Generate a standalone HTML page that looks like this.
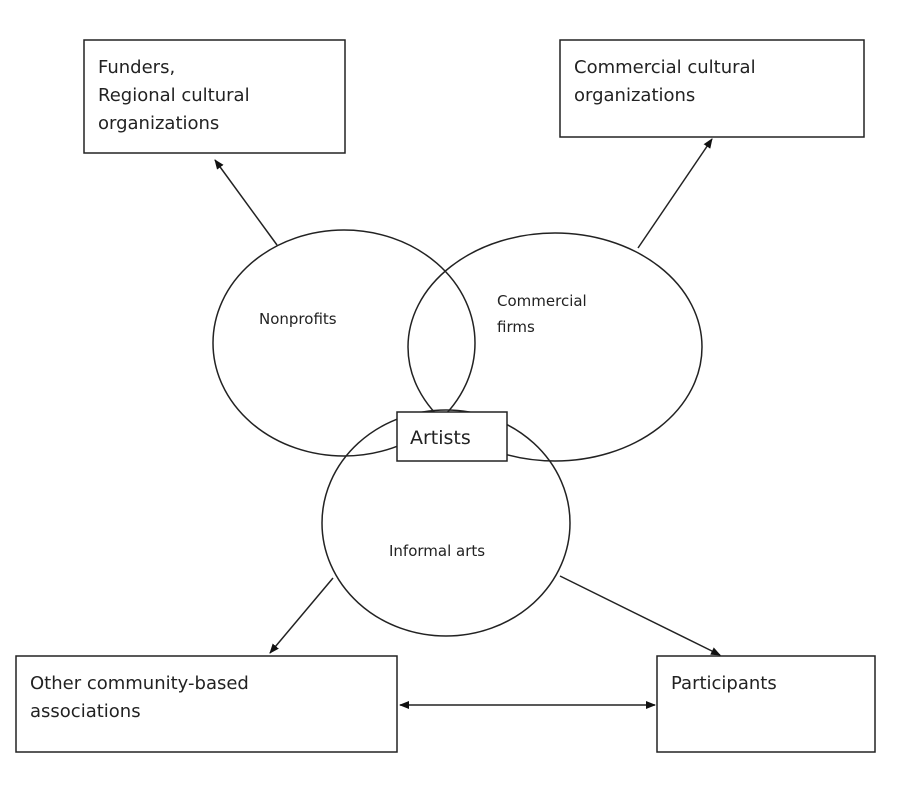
<!DOCTYPE html>
<html><head><meta charset="utf-8"><style>
body{margin:0;background:#fff;}
svg{display:block;}
text{font-family:"DejaVu Sans","Liberation Sans",sans-serif;fill:#222;}
</style></head><body>
<svg width="903" height="800" viewBox="0 0 903 800" xmlns="http://www.w3.org/2000/svg">
<defs><marker id="a" markerWidth="10" markerHeight="10" refX="9" refY="5" orient="auto" markerUnits="userSpaceOnUse"><path d="M0,1 L10,5 L0,9 Z" fill="#111"/></marker>
<marker id="b" markerWidth="10" markerHeight="10" refX="1" refY="5" orient="auto" markerUnits="userSpaceOnUse"><path d="M10,1 L0,5 L10,9 Z" fill="#111"/></marker></defs>
<g fill="none" stroke="#222" stroke-width="1.5">
<rect x="84" y="40" width="261" height="113"/>
<rect x="560" y="40" width="304" height="97"/>
<rect x="16" y="656" width="381" height="96"/>
<rect x="657" y="656" width="218" height="96"/>
<ellipse cx="344" cy="343" rx="131" ry="113"/>
<ellipse cx="555" cy="347" rx="147" ry="114"/>
<ellipse cx="446" cy="523" rx="124" ry="113"/>
<line x1="277" y1="245" x2="215" y2="160" marker-end="url(#a)"/>
<line x1="638" y1="248" x2="712" y2="139" marker-end="url(#a)"/>
<line x1="333" y1="578" x2="270" y2="653" marker-end="url(#a)"/>
<line x1="560" y1="576" x2="720" y2="655" marker-end="url(#a)"/>
<line x1="400" y1="705" x2="655" y2="705" marker-start="url(#b)" marker-end="url(#a)"/>
</g>
<rect x="397" y="412" width="110" height="49" fill="#fff" stroke="#222" stroke-width="1.5"/>
<text x="98" y="73" font-size="18">Funders,</text>
<text x="98" y="101" font-size="18">Regional cultural</text>
<text x="98" y="129" font-size="18">organizations</text>
<text x="574" y="73" font-size="18">Commercial cultural</text>
<text x="574" y="101" font-size="18">organizations</text>
<text x="30" y="689" font-size="18">Other community-based</text>
<text x="30" y="717" font-size="18">associations</text>
<text x="671" y="689" font-size="18">Participants</text>
<text x="410" y="444" font-size="19">Artists</text>
<text x="259" y="324" font-size="15">Nonprofits</text>
<text x="497" y="306" font-size="15">Commercial</text>
<text x="497" y="332" font-size="15">firms</text>
<text x="389" y="556" font-size="15">Informal arts</text>
</svg>
</body></html>
